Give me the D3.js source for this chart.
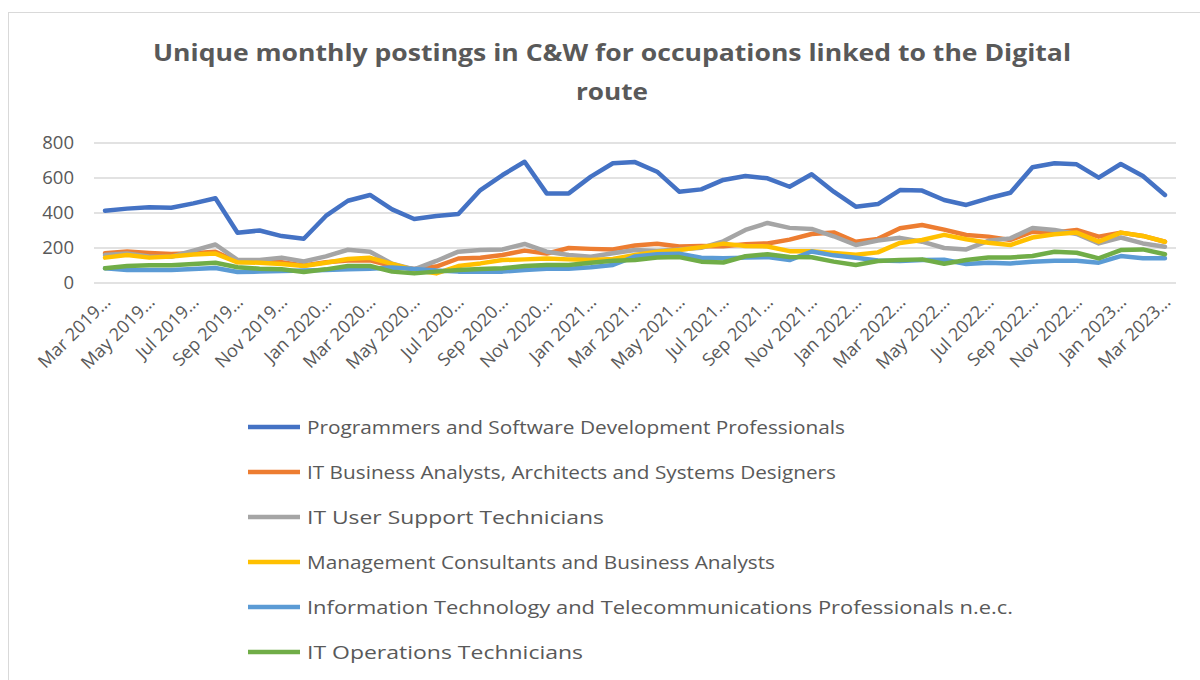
<!DOCTYPE html>
<html><head><meta charset="utf-8">
<script src="https://cdn.jsdelivr.net/npm/d3@7"></script>
<style>body{margin:0;background:#fff}svg{display:block}</style>
</head><body>
<svg id="c" width="1200" height="680"></svg>
<script>
const months = ["Mar 2019","Apr 2019","May 2019","Jun 2019","Jul 2019","Aug 2019","Sep 2019","Oct 2019","Nov 2019","Dec 2019",
"Jan 2020","Feb 2020","Mar 2020","Apr 2020","May 2020","Jun 2020","Jul 2020","Aug 2020","Sep 2020","Oct 2020","Nov 2020","Dec 2020",
"Jan 2021","Feb 2021","Mar 2021","Apr 2021","May 2021","Jun 2021","Jul 2021","Aug 2021","Sep 2021","Oct 2021","Nov 2021","Dec 2021",
"Jan 2022","Feb 2022","Mar 2022","Apr 2022","May 2022","Jun 2022","Jul 2022","Aug 2022","Sep 2022","Oct 2022","Nov 2022","Dec 2022",
"Jan 2023","Feb 2023","Mar 2023"];
const seriesNames = ["Programmers and Software Development Professionals",
"IT Business Analysts, Architects and Systems Designers",
"IT User Support Technicians",
"Management Consultants and Business Analysts",
"Information Technology and Telecommunications Professionals n.e.c.",
"IT Operations Technicians"];
const programmers = [413,425,433,430,455,484,287,300,268,253,383,470,503,421,366,383,394,531,617,693,512,512,608,684,691,636,522,535,589,611,598,550,621,522,436,451,531,528,474,446,484,516,661,684,678,602,680,611,503];
const itBusiness = [170,180,172,166,170,178,120,122,118,100,118,128,130,97,80,94,140,144,160,185,168,200,195,192,214,224,209,211,210,222,226,248,280,289,236,252,313,331,305,274,265,246,293,288,303,265,288,269,236];
const itSupport = [160,168,152,150,185,220,132,132,145,123,152,190,179,110,78,126,179,188,192,223,179,160,150,170,188,183,192,201,238,303,343,315,309,267,217,243,258,236,200,192,241,255,314,303,280,226,260,226,207];
const mgmtConsult = [145,160,145,152,163,168,118,116,109,97,116,137,144,109,74,55,97,112,131,135,140,135,131,137,160,179,188,205,225,211,209,182,182,172,162,175,229,246,275,250,230,217,260,278,288,236,288,269,236];
const itProf = [84,74,74,74,80,86,63,65,69,72,74,78,82,88,80,71,65,65,65,74,82,82,90,103,152,164,167,144,141,145,148,131,180,158,144,128,125,131,133,109,116,112,122,127,127,116,154,141,141];
const itOps = [84,97,101,101,109,116,90,82,78,63,78,97,97,65,55,65,74,80,84,97,103,103,116,127,132,146,148,122,117,153,164,148,147,122,103,126,132,135,110,131,146,146,154,179,173,141,188,192,164];
const yTicks = [0,200,400,600,800];
const legendWidths = [538,529,297,468,706,276];
const colors = ["#4472C4","#ED7D31","#A5A5A5","#FFC000","#5B9BD5","#70AD47"];

const data = [programmers,itBusiness,itSupport,mgmtConsult,itProf,itOps];
const svg = d3.select("#c");
const FONT = "'Open Sans', sans-serif";
const textCol = "#595959";

svg.append("rect").attr("x",8.5).attr("y",12.5).attr("width",1200).attr("height",700)
  .attr("fill","none").attr("stroke","#d9d9d9").attr("stroke-width",1);

svg.append("text").attr("x",612).attr("y",61).attr("text-anchor","middle")
  .attr("font-family",FONT).attr("font-weight",700).attr("font-size",24).attr("fill",textCol)
  .attr("textLength",918).attr("lengthAdjust","spacingAndGlyphs")
  .text("Unique monthly postings in C&W for occupations linked to the Digital");
svg.append("text").attr("x",612).attr("y",100).attr("text-anchor","middle")
  .attr("font-family",FONT).attr("font-weight",700).attr("font-size",24).attr("fill",textCol)
  .attr("textLength",72).attr("lengthAdjust","spacingAndGlyphs")
  .text("route");

const x = d3.scalePoint().domain(months).range([94,1176]).padding(0.5);
const y = d3.scaleLinear().domain([0,800]).range([283,143]);

const grid = svg.append("g");
grid.selectAll("line").data(yTicks).join("line")
  .attr("x1",94).attr("x2",1176).attr("y1",d=>y(d)).attr("y2",d=>y(d))
  .attr("stroke","#d9d9d9").attr("stroke-width",1.3);

const yAxis = svg.append("g").attr("transform","translate(94,0)")
  .call(d3.axisLeft(y).tickValues(yTicks).tickSize(0).tickPadding(20));
yAxis.select(".domain").remove();
yAxis.selectAll("text").attr("font-family",FONT).attr("font-size",18.5).attr("fill",textCol);

const xLabels = months.filter((d,i)=>i%2===0);
const xAxis = svg.append("g").attr("transform","translate(0,283)")
  .call(d3.axisBottom(x).tickValues(xLabels).tickSize(0).tickFormat(d=>d+"…"));
xAxis.select(".domain").remove();
xAxis.selectAll("text")
  .attr("font-family",FONT).attr("font-size",18).attr("fill",textCol)
  .attr("text-anchor","end").attr("dy",0)
  .attr("transform","translate(4,18) rotate(-45)");

const line = d3.line().x((d,i)=>x(months[i])).y(d=>y(d));
svg.append("g").selectAll("path").data(data).join("path")
  .attr("d",line).attr("fill","none").attr("stroke",(d,i)=>colors[i])
  .attr("stroke-width",4.5).attr("stroke-linejoin","round").attr("stroke-linecap","round");

const leg = svg.append("g").selectAll("g").data(seriesNames).join("g")
  .attr("transform",(d,i)=>`translate(0,${427+i*45})`);
leg.append("line").attr("x1",248).attr("x2",300).attr("y1",0).attr("y2",0)
  .attr("stroke",(d,i)=>colors[i]).attr("stroke-width",4.5);
leg.append("text").attr("x",307).attr("y",0).attr("dy","0.36em")
  .attr("font-family",FONT).attr("font-size",19).attr("fill",textCol)
  .attr("textLength",(d,i)=>legendWidths[i]).attr("lengthAdjust","spacingAndGlyphs")
  .text(d=>d);
</script>
</body></html>
